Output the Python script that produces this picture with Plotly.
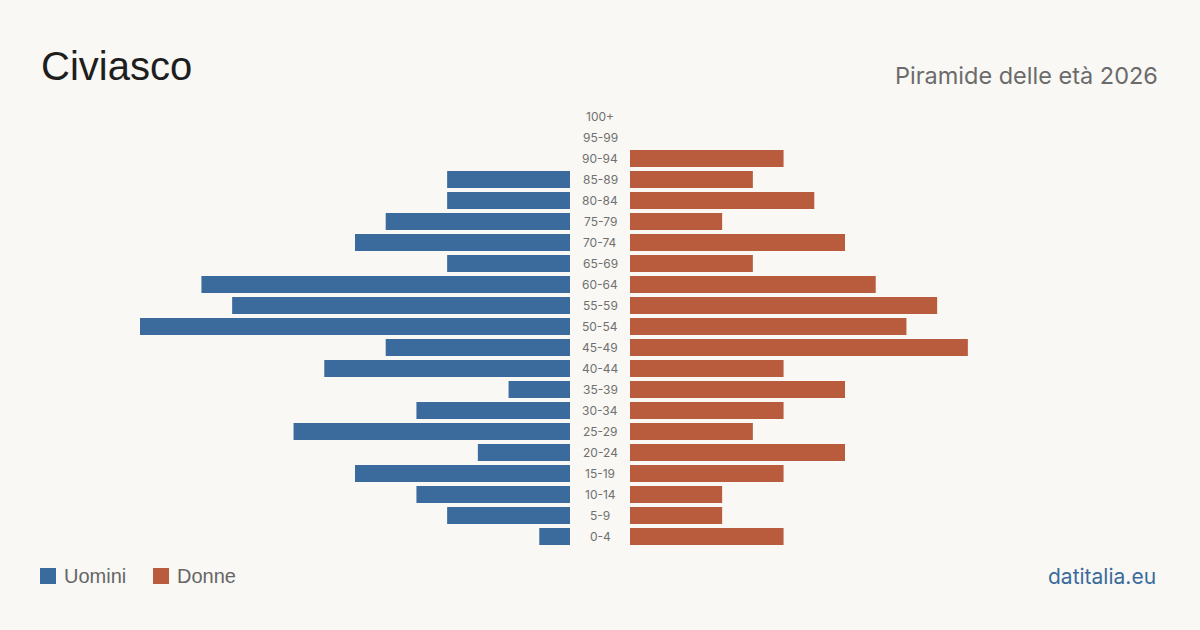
import plotly.graph_objects as go

ages = ["0-4","5-9","10-14","15-19","20-24","25-29","30-34","35-39","40-44","45-49",
        "50-54","55-59","60-64","65-69","70-74","75-79","80-84","85-89","90-94","95-99","100+"]
uomini = [1,4,5,7,3,9,5,2,8,6,14,11,12,4,7,6,4,4,0,0,0]
donne  = [5,3,3,5,7,4,5,7,5,11,9,10,8,4,7,3,6,4,5,0,0]

BLUE = "#3a6b9c"
ORANGE = "#b95c3e"
BG = "#f9f8f4"

T, B = 106.0, 83.0
PH = 630 - T - B

def py(pix):
    return (630 - B - pix) / PH

fig = go.Figure()
fig.add_trace(go.Bar(y=ages, x=uomini, orientation="h", name="Uomini",
                     marker=dict(color=BLUE, line=dict(width=0)), xaxis="x", yaxis="y",
                     hoverinfo="skip"))
fig.add_trace(go.Bar(y=ages, x=donne, orientation="h", name="Donne",
                     marker=dict(color=ORANGE, line=dict(width=0)), xaxis="x2", yaxis="y",
                     hoverinfo="skip"))

for a in ages:
    fig.add_annotation(x=0.5, xref="paper", y=a, yref="y", text=a, showarrow=False,
                       font=dict(family="Inter", size=12, color="#707070"), xanchor="center")

fig.add_annotation(x=39/1200, y=py(66), xref="paper", yref="paper",
                   text="Civiasco", showarrow=False, xanchor="left", yanchor="middle",
                   font=dict(family="Liberation Sans", size=40, color="#1e1e1e"))
fig.add_annotation(x=1160/1200, y=py(76), xref="paper", yref="paper",
                   text="Piramide delle età 2026", showarrow=False, xanchor="right", yanchor="middle",
                   font=dict(family="Inter", size=23.5, color="#6b6b6b"))
fig.add_annotation(x=1158/1200, y=py(576), xref="paper", yref="paper",
                   text="datitalia.eu", showarrow=False, xanchor="right", yanchor="middle",
                   font=dict(family="Inter", size=21, color=BLUE))

# legend
legend_items = [("Uomini", BLUE, 40), ("Donne", ORANGE, 153)]
for name, col, x0 in legend_items:
    fig.add_shape(type="rect", xref="paper", yref="paper",
                  x0=x0/1200, x1=(x0+16)/1200, y0=py(584), y1=py(568),
                  fillcolor=col, line=dict(width=0))
    fig.add_annotation(x=(x0+22)/1200, y=py(576), xref="paper", yref="paper",
                       text=name, showarrow=False, xanchor="left", yanchor="middle",
                       font=dict(family="Liberation Sans", size=20, color="#666"))

fig.update_layout(
    width=1200, height=630,
    paper_bgcolor=BG, plot_bgcolor=BG,
    margin=dict(l=0, r=0, t=T, b=B),
    barmode="overlay", bargap=0.19,
    showlegend=False,
    xaxis=dict(domain=[140/1200, 570/1200], range=[14, 0], visible=False, fixedrange=True),
    xaxis2=dict(domain=[630/1200, 1060/1200], range=[0, 14], visible=False, fixedrange=True),
    yaxis=dict(visible=False, categoryorder="array", categoryarray=ages, range=[-0.5, 20.5]),
)

fig.write_html("out.html")
